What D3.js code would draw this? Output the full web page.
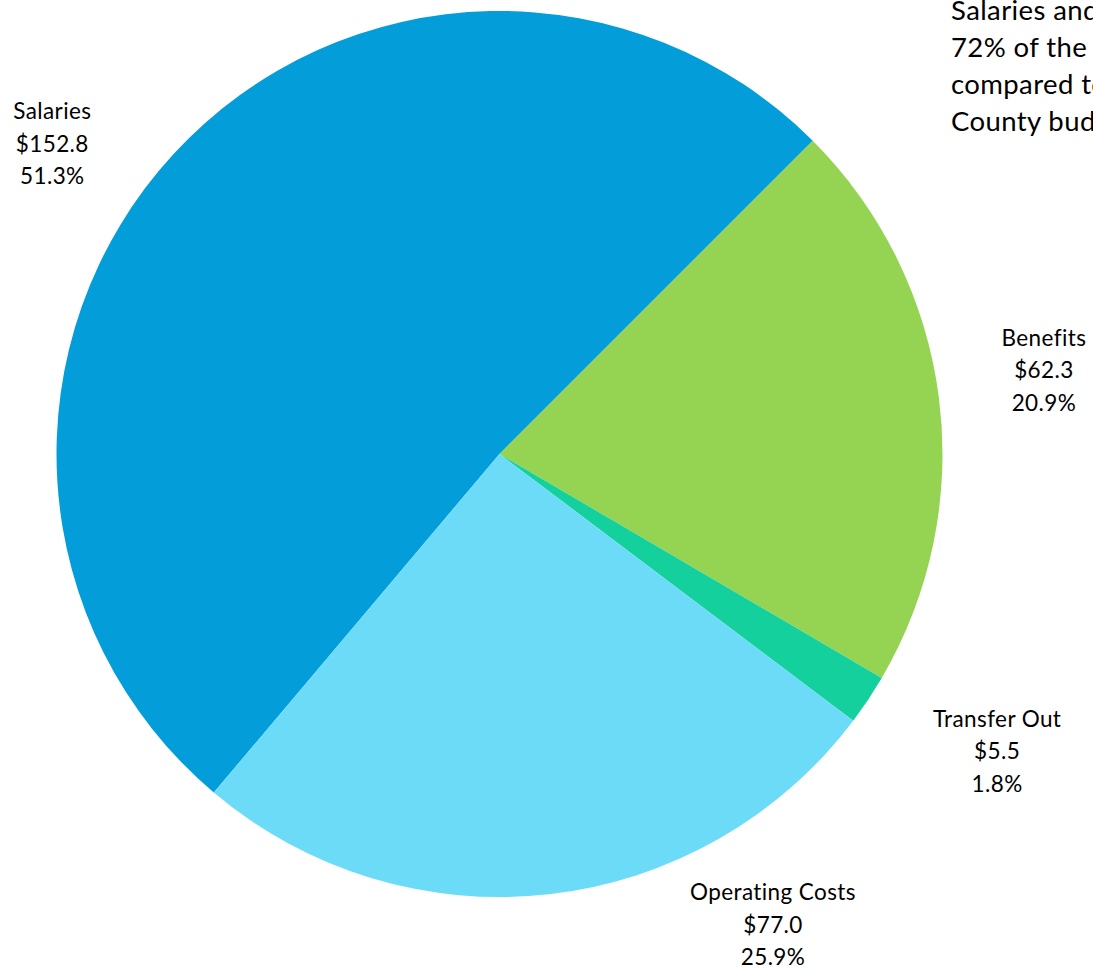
<!DOCTYPE html>
<html>
<head>
<meta charset="utf-8">
<script src="https://cdn.jsdelivr.net/npm/d3@7"></script>
<style>
  html, body { margin: 0; padding: 0; background: #ffffff; overflow: hidden; }
  svg { display: block; }
  text { font-family: Lato, "Open Sans", sans-serif; fill: #000; }
</style>
</head>
<body>
<svg id="chart" width="1093" height="969"></svg>
<script>
// Expenditure categories (millions of dollars) and their slice colours
const categories = ["Salaries", "Benefits", "Transfer Out", "Operating Costs"];
const amounts = [152.8, 62.3, 5.5, 77.0];
const percents = ["51.3%", "20.9%", "1.8%", "25.9%"];
const colors = ["#039ed9", "#95d352", "#13d09d", "#6cdbf8"];

// Label nudges from the slice's outer edge (px)
const labelNudge = [[-121, -11], [105, -28], [129, 51], [224, 30]];

// Commentary text beside the pie (runs past the right edge)
const noteLines = ["Salaries and benefits represent", "72% of the budget,", "compared to", "County budget"];

const svg = d3.select("#chart");
const cx = 499.5, cy = 454, R = 443;

const pie = d3.pie()
  .value(d => d.amount)
  .sort(null)
  .startAngle(-139.84 * Math.PI / 180)
  .endAngle((360 - 139.84) * Math.PI / 180);

const data = categories.map((c, i) => ({ name: c, amount: amounts[i], pct: percents[i], color: colors[i], nudge: labelNudge[i] }));
const arcs = pie(data);

const arc = d3.arc().innerRadius(0).outerRadius(R);
const edgeArc = d3.arc().innerRadius(R).outerRadius(R);

const g = svg.append("g").attr("transform", `translate(${cx},${cy})`);

g.selectAll("path.slice")
  .data(arcs)
  .join("path")
  .attr("class", "slice")
  .attr("d", arc)
  .attr("fill", d => d.data.color);

// Three-line data labels: name, amount, share
const fmt = d3.format(".1f");
const lab = g.selectAll("g.lab")
  .data(arcs)
  .join("g")
  .attr("class", "lab")
  .attr("transform", d => {
    const [x, y] = edgeArc.centroid(d);
    return `translate(${x + d.data.nudge[0]},${y + d.data.nudge[1]})`;
  });

lab.each(function(d) {
  const lines = [d.data.name, "$" + fmt(d.data.amount), d.data.pct];
  d3.select(this).selectAll("text")
    .data(lines)
    .join("text")
    .attr("text-anchor", "middle")
    .attr("dominant-baseline", "central")
    .attr("y", (t, i) => (i - 1) * 32.5)
    .style("font-size", "22.5px")
    .style("letter-spacing", "0.4px")
    .text(t => t);
});

// Side note
svg.append("g")
  .selectAll("text")
  .data(noteLines)
  .join("text")
  .attr("x", 951)
  .attr("y", (t, i) => 19.5 + i * 37)
  .style("font-size", "27.5px")
  .style("letter-spacing", "0.4px")
  .text(t => t);
</script>
</body>
</html>
